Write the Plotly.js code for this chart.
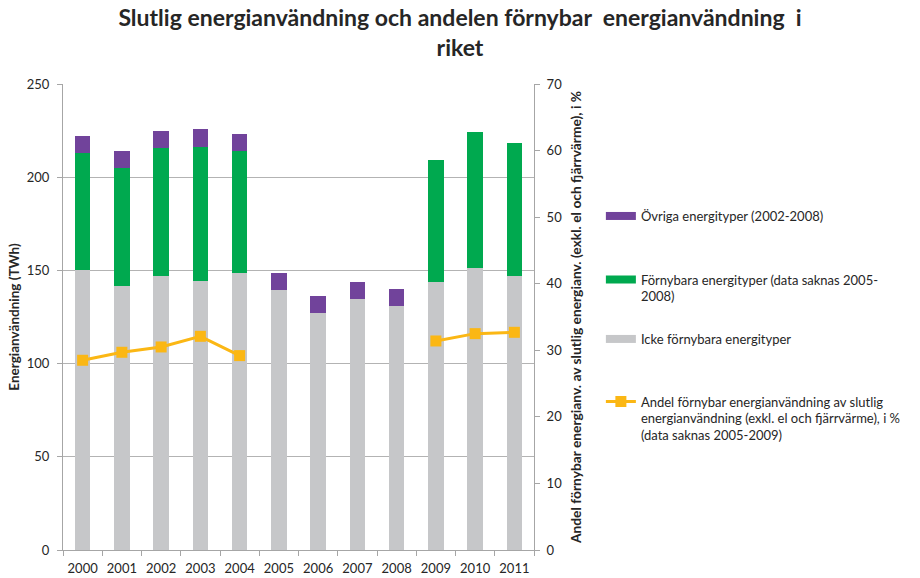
<!DOCTYPE html>
<html>
<head>
<meta charset="utf-8">
<script src="https://cdn.plot.ly/plotly-3.0.1.min.js"></script>
<style>body{margin:0;padding:0;background:#fff;}#chart{width:920px;height:578px;}</style>
</head>
<body>
<div id="chart"></div>
<script>
var years = ['2000','2001','2002','2003','2004','2005','2006','2007','2008','2009','2010','2011'];
var nonRenewable = [150, 141.4, 147, 144.1, 148.8, 139.6, 127.1, 134.8, 130.9, 143.7, 151.2, 147.2];
var renewable = [63.1, 63.8, 68.5, 72.2, 65, null, null, null, null, 65.6, 72.9, 71.2];
var other = [9.2, 9.1, 9.4, 9.3, 9.2, 9, 9.3, 9.1, 9.3, null, null, null];
var share = [28.5, 29.7, 30.5, 32.1, 29.2, null, null, null, null, 31.4, 32.5, 32.7];

var names = {
  other: 'Övriga energityper (2002-2008)',
  renewable: 'Förnybara energityper (data saknas 2005-<br>2008)',
  nonRenewable: 'Icke förnybara energityper',
  share: 'Andel förnybar energianvändning av slutlig<br>energianvändning (exkl. el och fjärrvärme), i %<br>(data saknas 2005-2009)'
};
var colors = {nonRenewable:'#c6c7c9', renewable:'#00a94f', other:'#71439b', share:'#fbb714'};

var FONT = 'Lato, "Open Sans", sans-serif';
var TXT = '#262626';

function legendKey(key, legendId){
  // legend-only entry showing a wide colour swatch like the reference
  return {type:'scatter', mode:'lines', x:[null], y:[null], name:names[key], legend:legendId,
          showlegend:true, hoverinfo:'skip', line:{color:colors[key], width:8}};
}

var traces = [
  {type:'bar', x:years, y:nonRenewable, name:names.nonRenewable, showlegend:false,
   marker:{color:colors.nonRenewable}},
  {type:'bar', x:years, y:renewable, name:names.renewable, showlegend:false,
   marker:{color:colors.renewable}},
  {type:'bar', x:years, y:other, name:names.other, showlegend:false,
   marker:{color:colors.other}},
  {type:'scatter', mode:'lines+markers', x:years, y:share, yaxis:'y2', name:names.share, legend:'legend4',
   connectgaps:false, showlegend:true,
   line:{color:colors.share, width:3},
   marker:{symbol:'square', size:11, color:colors.share}},
  legendKey('other','legend'),
  legendKey('renewable','legend2'),
  legendKey('nonRenewable','legend3')
];

function leg(y){
  return {x:1.142, xanchor:'left', y:y, yanchor:'middle', valign:'top', visible:true,
          bgcolor:'rgba(0,0,0,0)', font:{family:FONT, size:13, color:TXT}};
}

var layout = {
  width:920, height:578,
  margin:{l:63, r:386, t:84, b:28},
  paper_bgcolor:'#fff', plot_bgcolor:'#fff',
  font:{family:FONT, color:TXT},
  showlegend:true,
  title:{text:'Slutlig energianvändning och andelen förnybar  energianvändning  i<br>riket',
         font:{family:FONT, size:23, color:TXT, weight:'bold'},
         x:0.5, xanchor:'center', xref:'container', y:0.955, yanchor:'top', yref:'container'},
  barmode:'stack',
  bargap:0.6,
  xaxis:{type:'category', range:[-0.5, 11.5], showline:true, linecolor:'#a6a6a6', linewidth:1,
         ticks:'outside', tickson:'boundaries', ticklen:5, tickcolor:'#a6a6a6', tickangle:0,
         ticklabelstandoff:6,
         tickfont:{family:FONT, size:13, color:TXT}, showgrid:false, zeroline:false},
  yaxis:{range:[0,250], dtick:50, showline:true, linecolor:'#a6a6a6', linewidth:1,
         ticks:'outside', ticklen:5, tickcolor:'#a6a6a6', ticklabelstandoff:5,
         showgrid:true, gridcolor:'#b3b3b3', gridwidth:1, zeroline:false,
         tickfont:{family:FONT, size:13, color:TXT},
         title:{text:'Energianvändning (TWh)', font:{family:FONT, size:13.5, color:TXT, weight:'bold'}, standoff:4}},
  yaxis2:{range:[0,70], dtick:10, overlaying:'y', side:'right', showline:true,
          linecolor:'#a6a6a6', linewidth:1, ticks:'outside', ticklen:5, tickcolor:'#a6a6a6', ticklabelstandoff:4,
          showgrid:false, zeroline:false,
          tickfont:{family:FONT, size:13, color:TXT},
          title:{text:'Andel förnybar energianv. av slutlig energianv. (exkl. el och fjärrvärme), i %',
                 font:{family:FONT, size:13.8, color:TXT, weight:'bold'}, standoff:10}},
  legend: leg(0.7167),
  legend2: leg(0.5622),
  legend3: leg(0.4528),
  legend4: leg(0.2822)
};

Plotly.newPlot('chart', traces, layout, {displayModeBar:false, staticPlot:true});
</script>
</body>
</html>
